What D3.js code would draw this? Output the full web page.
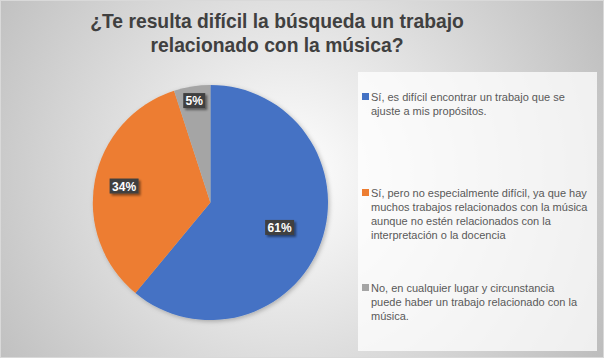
<!DOCTYPE html>
<html><head><meta charset="utf-8">
<script src="https://cdn.jsdelivr.net/npm/d3@7"></script>
<style>html,body{margin:0;padding:0;background:#fff;}svg{display:block;}</style>
</head><body>
<svg id="c" width="605" height="359"></svg>
<script>
const titleLines = ["¿Te resulta difícil la búsqueda un trabajo", "relacionado con la música?"];
const categories = [
  ["Sí, es difícil encontrar un trabajo que se", "ajuste a mis propósitos."],
  ["Sí, pero no especialmente difícil, ya que hay", "muchos trabajos relacionados con la música", "aunque no estén relacionados con la", "interpretación o la docencia"],
  ["No, en cualquier lugar y circunstancia", "puede haber un trabajo relacionado con la", "música."]
];
const values = [61, 34, 5];
const colors = ["#4472C4", "#ED7D31", "#A5A5A5"];

const W = 605, H = 359;
const svg = d3.select("#c");
const defs = svg.append("defs");
const rg = defs.append("radialGradient").attr("id","bg")
  .attr("gradientUnits","userSpaceOnUse").attr("cx",290).attr("cy",175).attr("r",360);
rg.append("stop").attr("offset","0%").attr("stop-color","#ffffff");
rg.append("stop").attr("offset","100%").attr("stop-color","#bdbdbd");
const sh = defs.append("filter").attr("id","sh").attr("x","-30%").attr("y","-30%").attr("width","160%").attr("height","160%");
sh.append("feDropShadow").attr("dx",2).attr("dy",2).attr("stdDeviation",1.2).attr("flood-color","#000").attr("flood-opacity",0.45);
const psh = defs.append("filter").attr("id","psh").attr("x","-20%").attr("y","-20%").attr("width","140%").attr("height","140%");
psh.append("feDropShadow").attr("dx",1.5).attr("dy",1.5).attr("stdDeviation",2).attr("flood-color","#000").attr("flood-opacity",0.25);

svg.append("rect").attr("x",0.5).attr("y",0.5).attr("width",W-2).attr("height",H-2)
  .attr("fill","url(#bg)").attr("stroke","#d9d9d9");

// title
svg.append("g").selectAll("text").data(titleLines).join("text")
  .attr("x",277).attr("y",(d,i)=>28+i*24).attr("text-anchor","middle")
  .attr("font-family","Liberation Sans, Arial, sans-serif").attr("font-weight","bold")
  .attr("font-size",19.3).attr("fill","#404040").text(d=>d);

// legend box
svg.append("rect").attr("x",358).attr("y",72).attr("width",239).attr("height",279)
  .attr("fill","#ffffff").attr("fill-opacity",0.75);

// pie
const cx = 210.4, cy = 202.5, R = 117.6;
const pie = d3.pie().sort(null).value(d=>d);
const arcs = pie(values);
const arc = d3.arc().innerRadius(0).outerRadius(R);
const g = svg.append("g").attr("transform",`translate(${cx},${cy})`);
g.append("g").attr("filter","url(#psh)").selectAll("path").data(arcs).join("path")
  .attr("d",arc).attr("fill",(d,i)=>colors[i]);

const total = d3.sum(values);
const lab = g.append("g").selectAll("g").data(arcs).join("g")
  .attr("transform",d=>{
    const share = d.value/total;
    const rr = R*(0.9-0.45*share);
    const a = (d.startAngle+d.endAngle)/2;
    return `translate(${rr*Math.sin(a)},${-rr*Math.cos(a)})`;
  });
lab.each(function(d){
  const s = d3.select(this);
  const t = Math.round(d.value/total*100)+"%";
  const w = t.length*7+8;
  s.append("rect").attr("x",-w/2).attr("y",-7.5).attr("width",w).attr("height",15)
    .attr("fill","#404040").attr("filter","url(#sh)");
  s.append("text").attr("text-anchor","middle").attr("y",4.5)
    .attr("font-family","Liberation Sans, Arial, sans-serif").attr("font-weight","bold")
    .attr("font-size",12).attr("fill","#ffffff").text(t);
});

// legend
const itemY = [93, 189, 284];
const leg = svg.append("g").selectAll("g").data(categories).join("g")
  .attr("transform",(d,i)=>`translate(362,${itemY[i]})`);
leg.append("rect").attr("width",7).attr("height",7).attr("fill",(d,i)=>colors[i]);
leg.each(function(lines){
  d3.select(this).selectAll("text").data(lines).join("text")
    .attr("x",9).attr("y",(d,j)=>8+j*14)
    .attr("font-family","Liberation Sans, Arial, sans-serif").attr("font-size",11)
    .attr("fill","#595959").text(d=>d);
});
</script>
</body></html>
